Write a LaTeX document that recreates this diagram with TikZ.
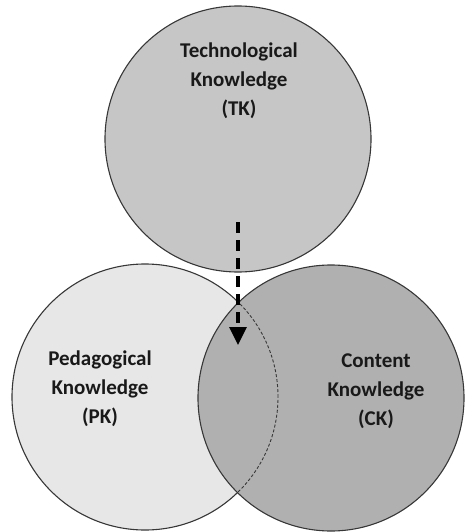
\documentclass[tikz,border=0pt]{standalone}
\usepackage{fontspec}
\setmainfont{Carlito}
\usetikzlibrary{arrows.meta}

\definecolor{tkgray}{RGB}{198,198,198}
\definecolor{pkgray}{RGB}{231,231,231}
\definecolor{ckgray}{RGB}{176,176,176}
\definecolor{rimgray}{RGB}{55,55,55}

\begin{document}
\begin{tikzpicture}[x=1pt,y=-1pt,
  set/.style={draw=rimgray,line width=1.1pt},
  setlabel/.style={align=center,font=\fontsize{21}{29}\selectfont\bfseries,text=black!90}]
\useasboundingbox (0,0) rectangle (467,532);
\coordinate (tkc) at (238,139);
\coordinate (pkc) at (145,397);
\coordinate (ckc) at (331,398);
\filldraw[set,fill=tkgray] (tkc) circle (133pt);
\filldraw[set,fill=pkgray] (pkc) circle (133pt);
\filldraw[set,fill=ckgray] (ckc) circle (133pt);
% hidden part of PK behind CK
\begin{scope}
\clip (ckc) circle (133pt);
\draw[draw=rimgray,line width=0.9pt,dash pattern=on 3pt off 2pt] (pkc) circle (133pt);
\end{scope}
\node (tk) [setlabel] at (239,81) {Technological\\Knowledge\\(TK)};
\node (pk) [setlabel] at (100,389) {Pedagogical\\Knowledge\\(PK)};
\node (ck) [setlabel] at (376,391) {Content\\Knowledge\\(CK)};
\coordinate (from) at (238,222);
\coordinate (to) at (238,345);
\draw[line width=3.2pt,dash pattern=on 11pt off 7pt,-{Triangle[length=18pt,width=17pt]}] (from) -- (to);
\end{tikzpicture}
\end{document}
